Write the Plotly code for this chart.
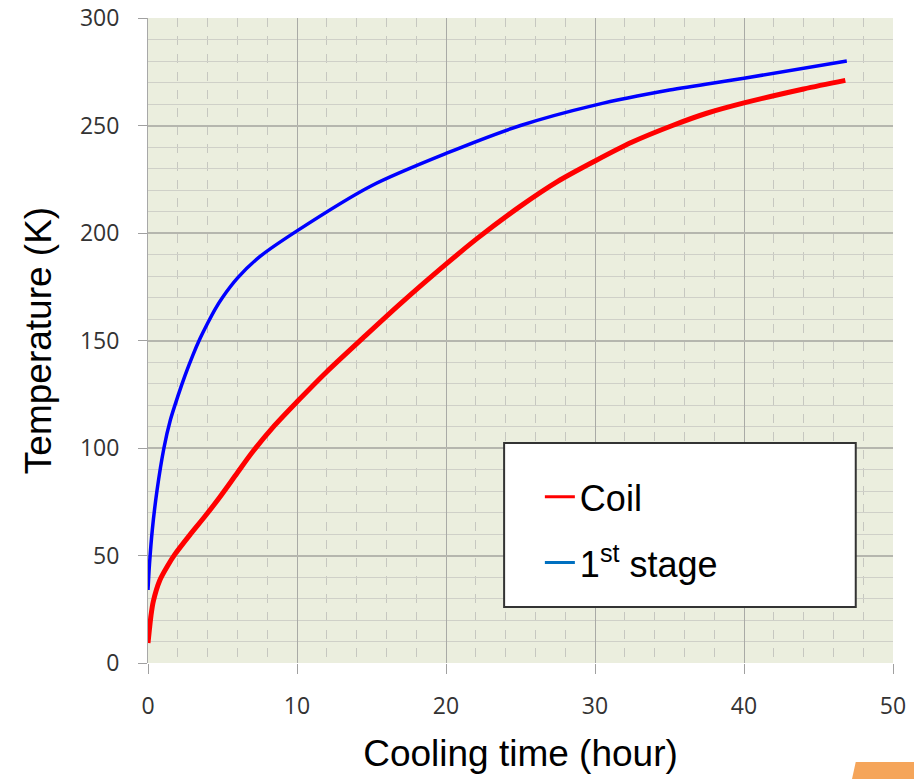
import plotly.graph_objects as go

# ---- data ----
stage_t = [0, 0.1, 0.29, 0.6, 1.07, 1.5, 2, 2.5, 3, 3.5, 4, 4.5, 5, 6, 7.5, 10, 15, 20, 25, 30, 35, 40, 46.9]
stage_T = [34, 46, 62, 80, 100, 113, 124, 134, 143, 151, 158, 164.5, 170, 179, 189, 201, 222, 237, 250, 259.5, 266.5, 272, 280]

coil_t = [0, 0.1, 0.2, 0.35, 0.8, 1.3, 1.8, 2.8, 3.8, 4.8, 6, 7, 8.5, 10, 12, 14.4, 17, 20, 22.1, 25, 27.5, 30, 32.5, 35.2, 37.5, 40, 44, 46.8]
coil_T = [9.3, 16, 22, 28.5, 38.6, 45, 50.5, 59.5, 68, 77, 88.5, 98, 110.5, 121.5, 135.5, 151, 167.5, 185.5, 197.5, 212.5, 224, 233.5, 242.3, 250, 255.7, 260.5, 267, 271]

x_ticks = [0, 10, 20, 30, 40, 50]
y_ticks = [0, 50, 100, 150, 200, 250, 300]

fig = go.Figure()

# data traces
fig.add_trace(go.Scatter(x=stage_t, y=stage_T, mode="lines",
                         line=dict(color="#0000FF", width=3.5, shape="spline", smoothing=0.8),
                         showlegend=False, hoverinfo="skip"))
fig.add_trace(go.Scatter(x=coil_t, y=coil_T, mode="lines",
                         line=dict(color="#FF0000", width=5, shape="spline", smoothing=0.8),
                         showlegend=False, hoverinfo="skip"))

# legend entries
fig.add_trace(go.Scatter(x=[None], y=[None], mode="lines", name="Coil", legendgroup="a",
                         line=dict(color="#FF0000", width=3)))
fig.add_trace(go.Scatter(x=[None], y=[None], mode="lines", name="1<sup>st</sup> stage", legendgroup="b",
                         line=dict(color="#0070C0", width=3)))

tick_font = dict(family="Open Sans", size=23, color="#333333")
title_font = dict(family="Liberation Sans, Arial", size=37, color="#000000")

fig.update_layout(
    width=922, height=779,
    margin=dict(l=140, r=37, t=10, b=124),
    paper_bgcolor="white",
    plot_bgcolor="#EBEEDE",
    showlegend=True,
    legend=dict(x=0.526, y=0.304, xanchor="left", yanchor="top",
                bgcolor="rgba(0,0,0,0)", borderwidth=0,
                font=dict(family="Liberation Sans, Arial", size=36, color="#000000"),
                itemwidth=30, traceorder="grouped", tracegroupgap=16),
    shapes=[
        dict(type="rect", xref="paper", yref="paper", x0=0.478, x1=0.950, y0=0.0868, y1=0.341,
             fillcolor="white", line=dict(color="#333333", width=2), layer="above"),
        dict(type="path", xref="paper", yref="paper",
             path="M 0.945 -0.1798 L 0.950 -0.1535 L 1.06 -0.1535 L 1.06 -0.1798 Z",
             fillcolor="#F5A55A", line=dict(width=0), layer="above"),
        dict(type="rect", xref="paper", yref="paper", x0=1.0325, x1=1.0355, y0=-0.16, y1=0.372,
             fillcolor="#F8B77A", line=dict(width=0), layer="above"),
    ],
)

fig.update_xaxes(
    range=[0, 50], tickvals=x_ticks, ticktext=[str(v) for v in x_ticks],
    showgrid=True, gridcolor="#A9AAA6", gridwidth=1.2,
    minor=dict(dtick=2, showgrid=True, gridcolor="#C6C7C0", griddash="dash", gridwidth=1),
    ticks="outside", ticklen=10, tickcolor="#A0A0A0", tickwidth=1,
    showline=False, zeroline=False, mirror=False, automargin=False,
    tickfont=tick_font, ticklabelstandoff=12, ticklabeloverflow="allow",
    title=dict(text="Cooling time (hour)", font=title_font, standoff=20),
)
fig.update_yaxes(
    range=[0, 300], tickvals=y_ticks, ticktext=[str(v) for v in y_ticks],
    showgrid=True, gridcolor="#B5B6AE", gridwidth=1.5,
    minor=dict(dtick=10, showgrid=True, gridcolor="#CFD0C8", gridwidth=1),
    ticks="outside", ticklen=9, tickcolor="#A0A0A0", tickwidth=1,
    showline=True, linecolor="#A8A8A8", linewidth=1, zeroline=False, automargin=False,
    tickfont=tick_font, ticklabelstandoff=14, ticklabeloverflow="allow",
    title=dict(text="Temperature (K)", font=title_font, standoff=16),
)

fig.write_html("out.html")
